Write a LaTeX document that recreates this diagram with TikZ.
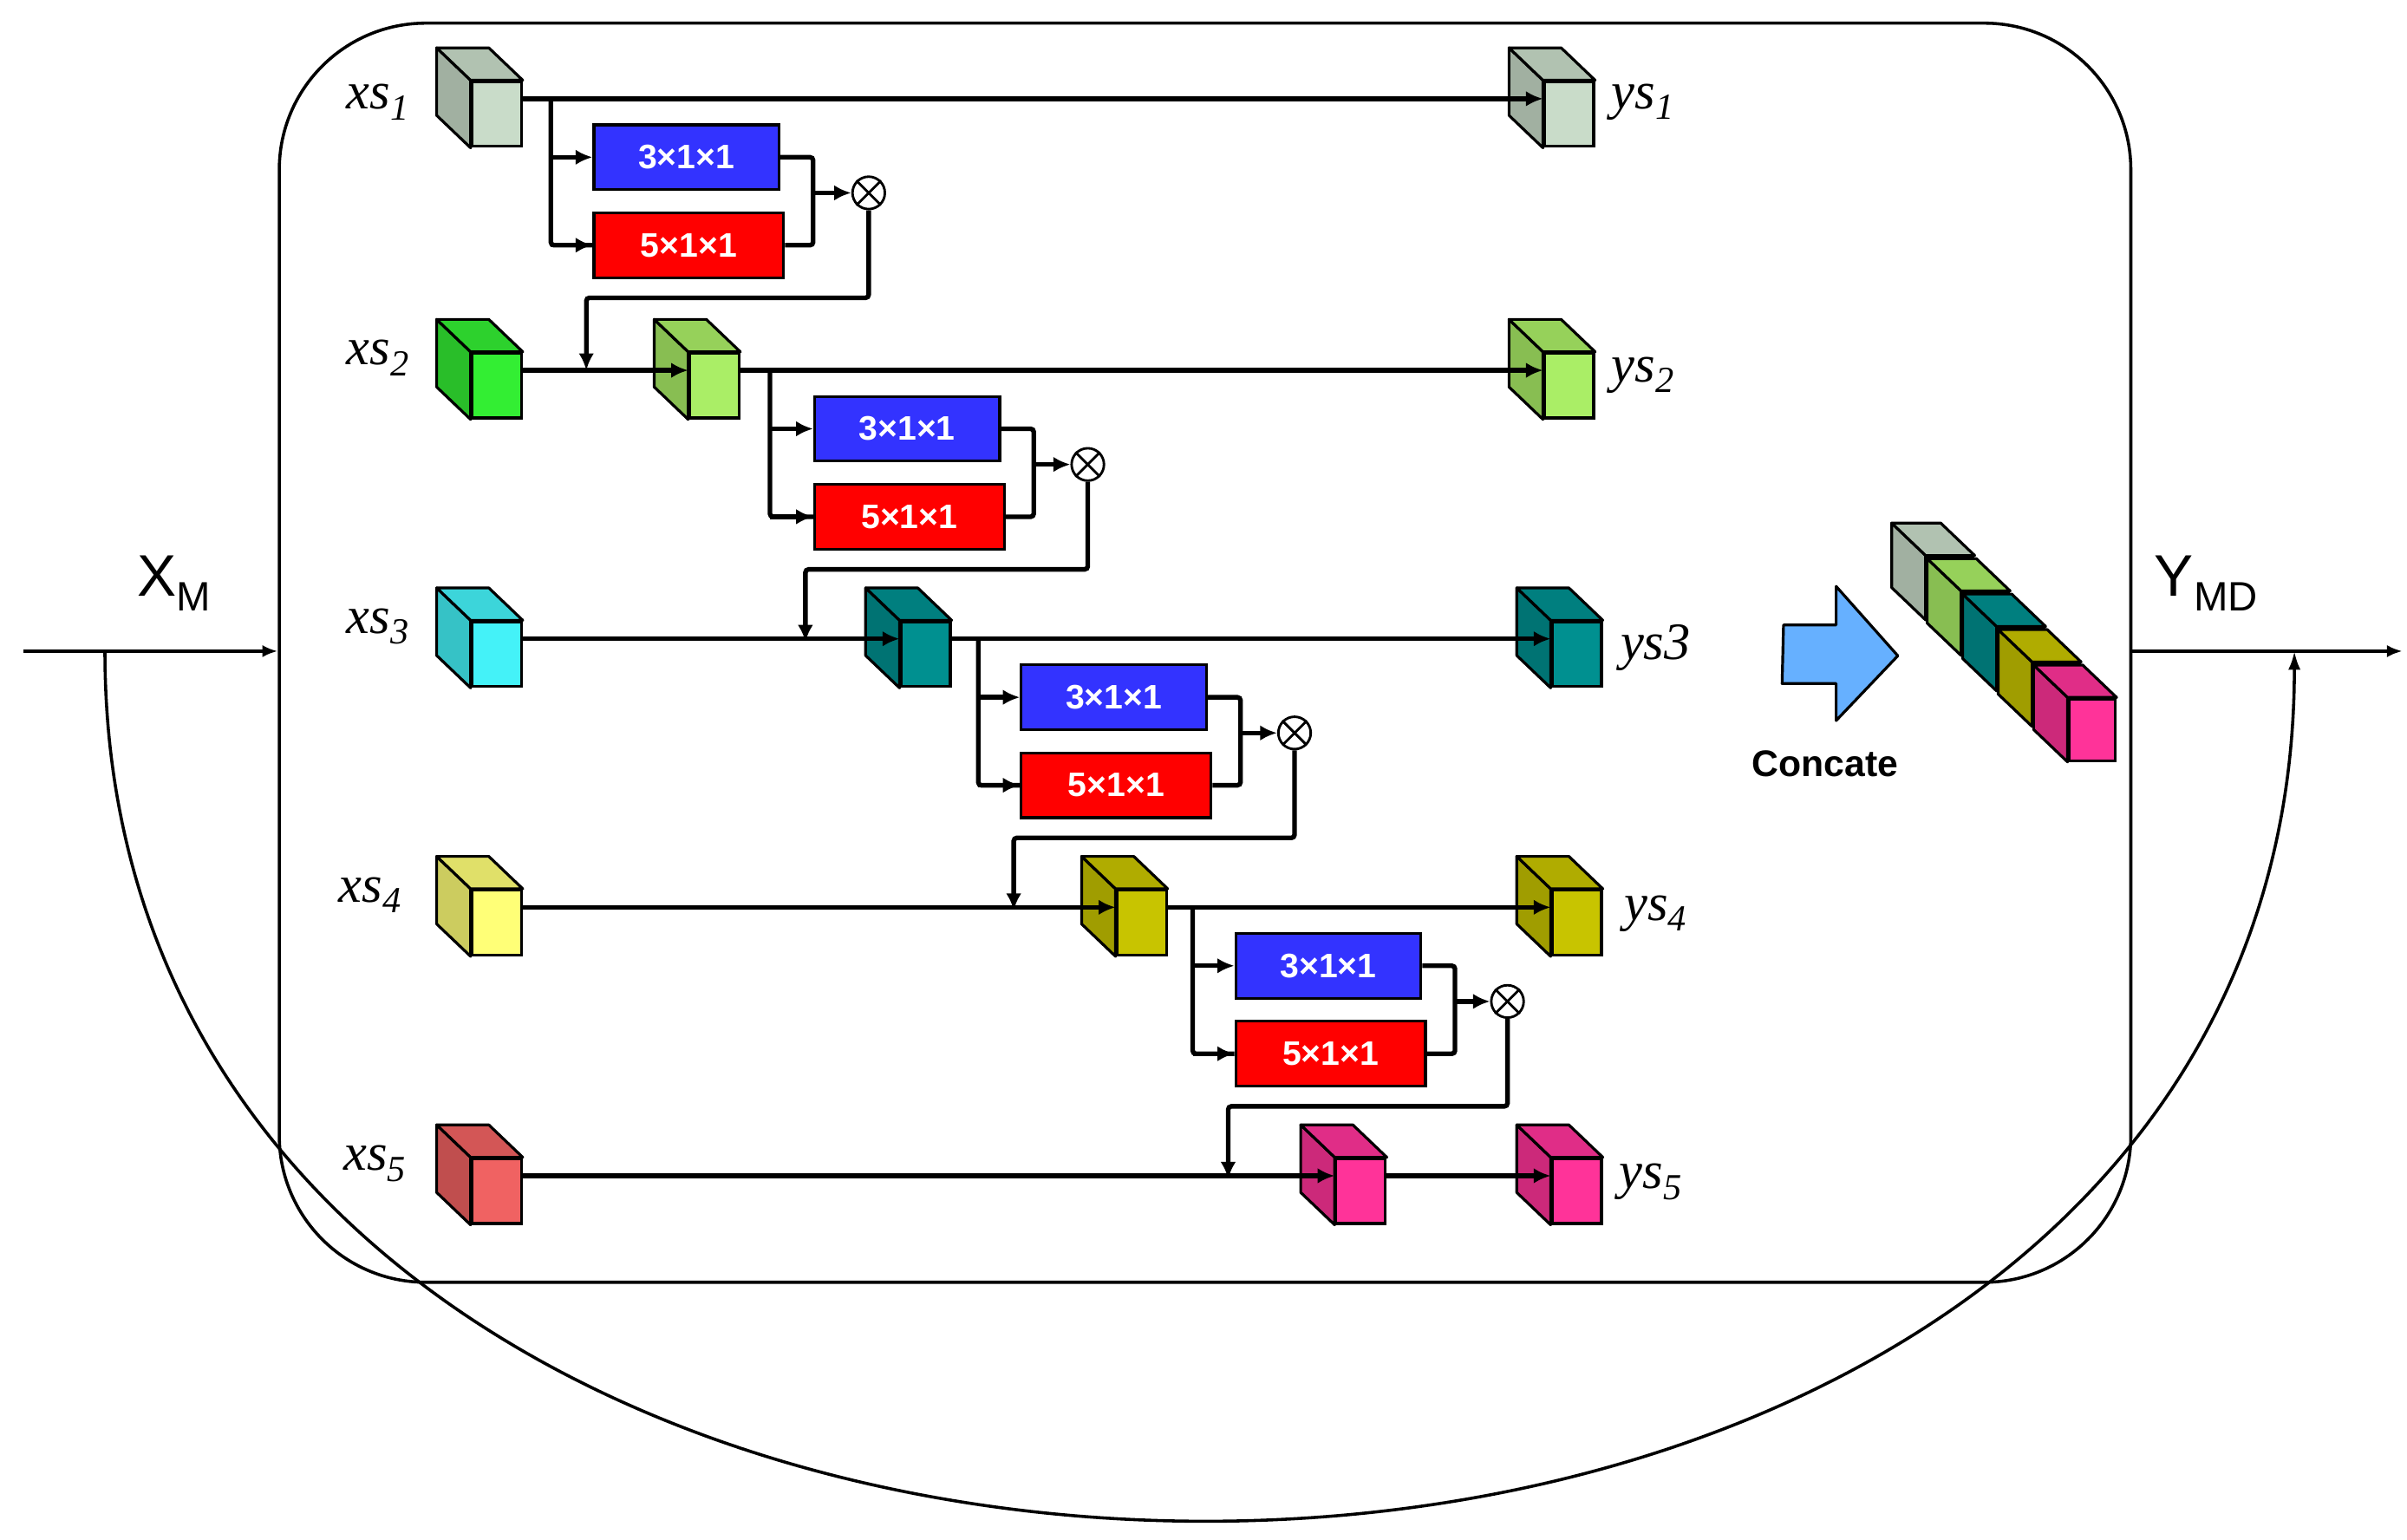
\documentclass[tikz,border=0pt]{standalone}
\usepackage{fontspec}
\setmainfont{Liberation Serif}
\setsansfont{Liberation Sans}
\usetikzlibrary{calc}
\definecolor{cgray}{HTML}{C9DCC9}
\definecolor{cgreen}{HTML}{33EE33}
\definecolor{clgreen}{HTML}{AAEE66}
\definecolor{ccyan}{HTML}{44F2F8}
\definecolor{cteal}{HTML}{009090}
\definecolor{cyel}{HTML}{FFFF77}
\definecolor{colive}{HTML}{C8C400}
\definecolor{csalm}{HTML}{F06262}
\definecolor{cpink}{HTML}{FF3399}
\definecolor{cblue}{HTML}{3333FF}
\definecolor{cred}{HTML}{FF0000}
\definecolor{carrow}{HTML}{66B0FF}
\tikzset{
  cubef/.style={draw, line width=1.8pt, minimum width=32pt, minimum height=42pt, inner sep=0pt, anchor=north west},
  conv/.style={draw, line width=1.8pt, minimum width=121pt, minimum height=42pt, inner sep=0pt,
    text=white, font=\sffamily\bfseries\fontsize{22}{22}\selectfont},
  flow/.style={line width=3pt, -{Latex[length=11pt,width=10pt]}},
  lin/.style={line width=3pt},
  lab/.style={font=\itshape\fontsize{34}{34}\selectfont},
  otim/.style={circle, draw, line width=1.6pt, minimum size=21pt, inner sep=0pt},
}
\usetikzlibrary{arrows.meta}
% cube: name, front-left x, front-top y, colour, width, height
\newcommand\mycube[6]{%
  \node[cubef, fill=#4, minimum width=#5pt, minimum height=#6pt] (#1) at (#2,#3) {};
  \filldraw[fill=#4!80!black, line width=1.8pt, line join=round]
    (#1.north west) -- ++(-22,-21) -- ($(#1.south west)+(-22,-21)$) -- (#1.south west) -- cycle;
  \filldraw[fill=#4!88!black, line width=1.8pt, line join=round]
    (#1.north west) -- ++(-22,-21) -- ($(#1.north east)+(-22,-21)$) -- (#1.north east) -- cycle;
}
\begin{document}
\begin{tikzpicture}[x=1pt,y=-1pt]
\useasboundingbox (0,0) rectangle (1560,998);
% outer block
\node[draw, line width=2pt, rounded corners=95pt, minimum width=1200pt, minimum height=816pt, anchor=north west] (blk) at (180,14) {};
% input / output
\coordinate (in) at (15,422);
\coordinate (out) at (1557,422);
\coordinate (sk) at (68,422);
\coordinate (sj) at (1487,422);
\draw[line width=2.5pt, -{Latex[length=10pt,width=8pt]}] (in) -- (in -| blk.west);
\draw[line width=2.5pt, -{Latex[length=10pt,width=8pt]}] (out -| blk.east) -- (out);
\draw[line width=2pt, -{Latex[length=12pt,width=8pt]}] (sk) .. controls (68,1172) and (1487,1172) .. (sj);
\node[font=\sffamily\fontsize{38}{38}\selectfont] (xm) at (113,378) {X\textsubscript{M}};
\node[font=\sffamily\fontsize{38}{38}\selectfont] (ymd) at (1430,378) {Y\textsubscript{MD}};
% input cubes
\mycube{x1}{305}{52}{cgray}{32}{42}
\mycube{x2}{305}{228}{cgreen}{32}{42}
\mycube{x3}{305}{402}{ccyan}{32}{42}
\mycube{x4}{305}{576}{cyel}{32}{42}
\mycube{x5}{305}{750}{csalm}{32}{42}
% intermediate cubes
\mycube{m2}{446}{228}{clgreen}{32}{42}
\mycube{m3}{583}{402}{cteal}{32}{42}
\mycube{m4}{723}{576}{colive}{32}{42}
\mycube{m5}{865}{750}{cpink}{32}{42}
% output cubes
\mycube{y1}{1000}{52}{cgray}{32}{42}
\mycube{y2}{1000}{228}{clgreen}{32}{42}
\mycube{y3}{1005}{402}{cteal}{32}{42}
\mycube{y4}{1005}{576}{colive}{32}{42}
\mycube{y5}{1005}{750}{cpink}{32}{42}
% labels
\node[lab] (lx1) at (245,66) {xs\textsubscript{1}};
\node[lab] (lx2) at (245,232) {xs\textsubscript{2}};
\node[lab] (lx3) at (245,406) {xs\textsubscript{3}};
\node[lab] (lx4) at (240,580) {xs\textsubscript{4}};
\node[lab] (lx5) at (243,754) {xs\textsubscript{5}};
\node[lab] (ly1) at (1065,66) {ys\textsubscript{1}};
\node[lab] (ly2) at (1065,243) {ys\textsubscript{2}};
\node[lab] (ly3) at (1073,420) {ys3};
\node[lab] (ly4) at (1073,592) {ys\textsubscript{4}};
\node[lab] (ly5) at (1070,766) {ys\textsubscript{5}};
% main lines
\draw[flow] (x1.east |- 0,64) -- (y1.west |- 0,64);
\draw[flow] (x2.east |- 0,240) -- (m2.west |- 0,240);
\draw[flow] (m2.east |- 0,240) -- (y2.west |- 0,240);
\draw[flow] (x3.east |- 0,414) -- (m3.west |- 0,414);
\draw[flow] (m3.east |- 0,414) -- (y3.west |- 0,414);
\draw[flow] (x4.east |- 0,588) -- (m4.west |- 0,588);
\draw[flow] (m4.east |- 0,588) -- (y4.west |- 0,588);
\draw[flow] (x5.east |- 0,762) -- (m5.west |- 0,762);
\draw[flow] (m5.east |- 0,762) -- (y5.west |- 0,762);
% branch stages
\foreach \k/\sx/\ry/\bx/\ox in {1/357/64/384/563, 2/499/240/527/705, 3/634/414/661/839, 4/773/588/800/977}{
  \node[conv, fill=cblue, anchor=north west, minimum width=120pt] (b\k) at (\bx,\ry+16) {3×1×1};
  \node[conv, fill=cred, anchor=north west, minimum width=123pt] (r\k) at (\bx,\ry+73) {5×1×1};
  \node[otim] (o\k) at (\ox,\ry+61) {};
  \draw[line width=1.6pt] (o\k.north east) -- (o\k.south west) (o\k.north west) -- (o\k.south east);
  \coordinate (s\k) at (\sx,\ry);
  \coordinate (j\k) at (\bx+143,\ry+61);
  \coordinate (d\k) at (\ox,\ry+129);
  \coordinate (e\k) at (\sx+23,\ry+129);
  \coordinate (t\k) at (\sx+23,\ry+176);
  \draw[lin, rounded corners=2pt] (s\k) |- (r\k.west);
  \draw[flow] (s\k |- b\k.west) -- (b\k.west);
  \draw[flow] (s\k |- r\k.west) -- (r\k.west);
  \draw[lin, rounded corners=2pt] (b\k.east) -| (j\k) |- (r\k.east);
  \draw[flow] (j\k) -- (o\k.west);
  \draw[lin, -{Latex[length=11pt,width=10pt]}, rounded corners=2pt] (o\k.south) |- (e\k) -- (t\k);
}
% concatenation
\node[draw, line width=1.8pt, fill=carrow, inner sep=0pt, minimum size=0pt] (ca) at (1155,405) {};
\filldraw[fill=carrow, line width=1.8pt, line join=round]
  (ca) -- (1190,405) -- (1190,380) -- (1230,425) -- (1190,467) -- (1190,443) -- (1155,443) -- cycle;
\node[font=\sffamily\bfseries\fontsize{24}{24}\selectfont] (cc) at (1183,495) {Concate};
\mycube{c1}{1248}{360}{cgray}{30}{40}
\mycube{c2}{1271}{383}{clgreen}{30}{40}
\mycube{c3}{1294}{406}{cteal}{30}{40}
\mycube{c4}{1317}{429}{colive}{30}{40}
\mycube{c5}{1340}{452}{cpink}{30}{40}
\end{tikzpicture}
\end{document}
